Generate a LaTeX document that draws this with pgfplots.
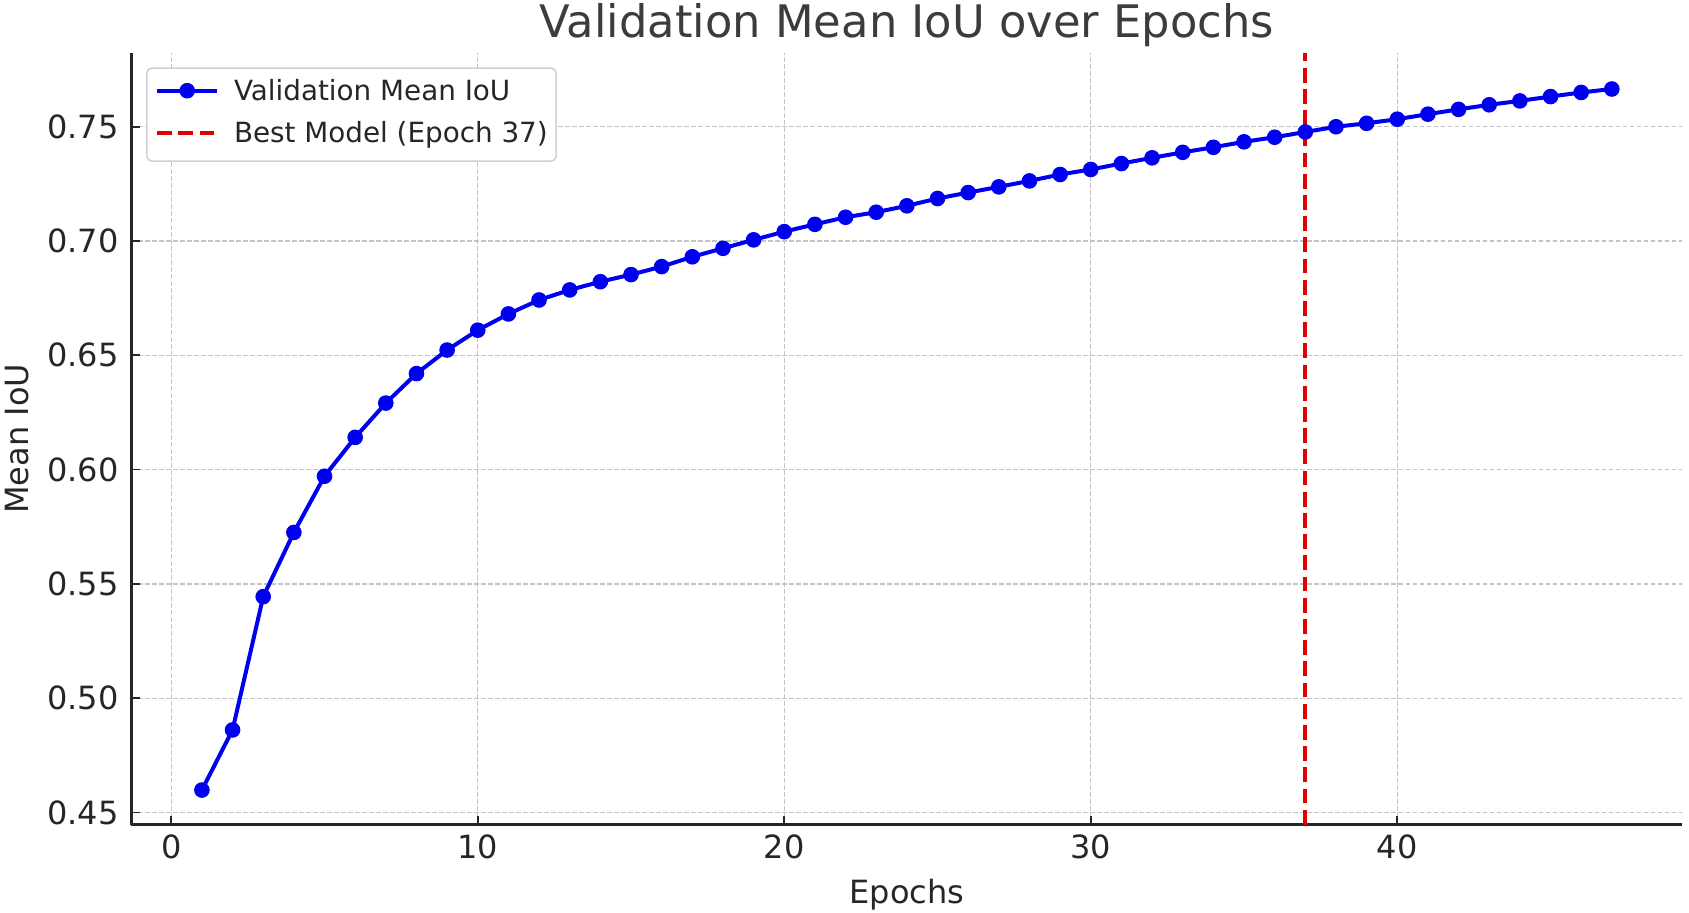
\documentclass[border=0pt]{standalone}
\usepackage{pgfplots}
\pgfplotsset{compat=1.18}
\usepackage{fontspec}
\setmainfont{DejaVu Sans}
\definecolor{txt}{HTML}{262626}
\definecolor{gridc}{HTML}{C4C4C4}
\definecolor{lineblue}{HTML}{0000F0}
\definecolor{bestred}{HTML}{E00000}
\pgfplotsset{
  markleg/.style={legend image code/.code={\draw[mark repeat=2,mark phase=2,##1] plot coordinates {(0pt,1.5pt) (15pt,1.5pt) (30pt,1.5pt)};}},
  dashleg/.style={legend image code/.code={\draw[##1] (0pt,1.5pt) -- (30pt,1.5pt);}},
}
\begin{document}
\begin{tikzpicture}
\begin{axis}[
  scale only axis,
  width=775.4pt, height=385.8pt,
  xmin=-1.3, xmax=49.3,
  ymin=0.4447, ymax=0.7823,
  axis x line=bottom, axis y line=left,
  axis line style={-, line width=1.5pt, color=txt},
  tick align=inside,
  major tick length=4.5pt,
  every tick/.style={line width=0.9pt, color=txt},
  xtick={0,10,20,30,40},
  ytick={0.45,0.50,0.55,0.60,0.65,0.70,0.75},
  /pgf/number format/assume math mode=true,
  yticklabel style={/pgf/number format/.cd, fixed, fixed zerofill, precision=2, /tikz/.cd,
    anchor=east, inner sep=0pt, xshift=-6.2pt},
  xticklabel style={anchor=base, inner sep=0pt, yshift=-17.2pt},
  ticklabel style={font=\fontsize{16}{19}\selectfont, text=txt},
  grid=major,
  major grid style={gridc, line width=0.65pt, dash pattern=on 2.4pt off 1.1pt},
  every axis title shift=0pt,
  title={Validation Mean IoU over Epochs},
  title style={at={(axis description cs:0.5,1.0197)}, anchor=base, inner sep=0pt,
    font=\fontsize{22.4}{26}\selectfont, text=txt!90},
  xlabel={Epochs},
  xlabel style={at={(axis description cs:0.5,-0.1029)}, anchor=base, inner sep=0pt,
    font=\fontsize{16}{19}\selectfont, text=txt},
  ylabel={Mean IoU},
  ylabel style={at={(axis description cs:-0.06648,0.5)}, anchor=base, inner sep=0pt,
    font=\fontsize{16}{19}\selectfont, text=txt},
  legend style={at={(axis description cs:0,1)}, anchor=north west,
    xshift=7.3pt, yshift=-7.2pt,
    draw=black!18, line width=0.8pt, rounded corners=2.5pt, fill=white,
    font=\fontsize{13.9}{16}\selectfont, text=txt,
    inner xsep=4.2pt, inner ysep=6.2pt, row sep=7.7pt,
    nodes={inner xsep=0pt, inner ysep=0pt, text height=10.2pt, text depth=3pt},
    column sep=7.4pt,
    cells={anchor=west}},
  legend cell align=left,
]
\addplot[color=lineblue, line width=2pt, mark=*, mark size=3.6pt,
  mark options={fill=lineblue, draw=lineblue, line width=0.6pt}, markleg]
coordinates {
(1,0.4598) (2,0.4861) (3,0.5444) (4,0.5725) (5,0.5971) (6,0.6141) (7,0.6291) (8,0.6420)
(9,0.6523) (10,0.6610) (11,0.6681) (12,0.6742) (13,0.6786) (14,0.6822) (15,0.6853) (16,0.6888)
(17,0.6931) (18,0.6968) (19,0.7005) (20,0.7041) (21,0.7073) (22,0.7104) (23,0.7126) (24,0.7154)
(25,0.7186) (26,0.7212) (27,0.7237) (28,0.7263) (29,0.7291) (30,0.7313) (31,0.7339) (32,0.7364)
(33,0.7388) (34,0.7410) (35,0.7434) (36,0.7454) (37,0.7477) (38,0.7500) (39,0.7515) (40,0.7533)
(41,0.7555) (42,0.7576) (43,0.7596) (44,0.7613) (45,0.7632) (46,0.7650) (47,0.7665)
};
\addlegendentry{Validation Mean IoU}
\addplot[color=bestred, line width=2pt, dash pattern=on 7.4pt off 3.2pt, dashleg]
coordinates {(37,0.4447) (37,0.7823)};
\addlegendentry{Best Model (Epoch 37)}
\end{axis}
\pgfresetboundingbox
\path ([shift={(-65.7pt,-44.2pt)}]current axis.south west) rectangle ([shift={(3.35pt,26.45pt)}]current axis.north east);
\end{tikzpicture}
\end{document}
